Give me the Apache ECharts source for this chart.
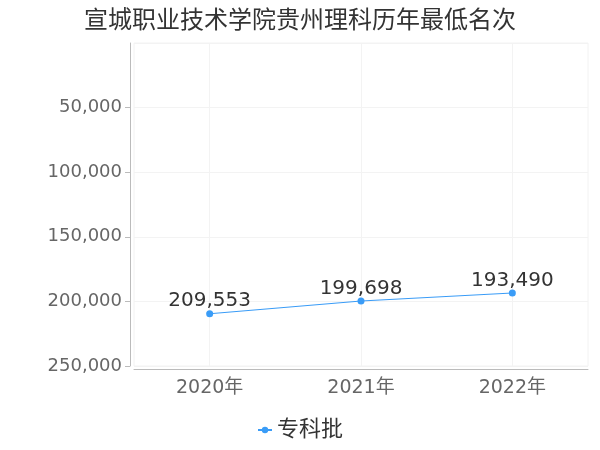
<!DOCTYPE html>
<html><head><meta charset="utf-8">
<script src="https://cdn.jsdelivr.net/npm/echarts@6/dist/echarts.min.js"></script>
<style>html,body{margin:0;padding:0;background:#fff}#c{width:600px;height:450px}</style>
</head><body><div id="c"></div>
<script>
const titleText = '宣城职业技术学院贵州理科历年最低名次';
const categories = ['2020年', '2021年', '2022年'];
const seriesName = '专科批';
const values = [209553, 199698, 193490];
const yMin = 0, yMax = 250000, yInterval = 50000;

const FONT = '"DejaVu Sans", "Noto Sans CJK SC", sans-serif';
const fmt = v => Number(v).toLocaleString('en-US');
const chart = echarts.init(document.getElementById('c'));
chart.setOption({
  animation: false,
  textStyle: { fontFamily: FONT },
  title: { text: titleText, left: 'center', top: 5,
    textStyle: { fontSize: 24, fontWeight: 'normal', color: '#333', fontFamily: FONT } },
  legend: { bottom: 4, left: 'center', itemWidth: 14, itemHeight: 8,
    textStyle: { fontSize: 22, color: '#333', fontFamily: FONT }, data: [seriesName] },
  grid: { left: 134, right: 12, top: 43, bottom: 84, show: true, borderColor: '#f2f2f2', borderWidth: 1 },
  xAxis: { type: 'category', data: categories, offset: 3,
    axisLine: { onZero: false, lineStyle: { color: '#bbb' } },
    axisTick: { alignWithLabel: true, lineStyle: { color: '#bbb' } },
    splitLine: { show: true, alignWithLabel: true, lineStyle: { color: '#f3f3f3' } },
    axisLabel: { fontSize: 19, color: '#666', margin: 10, fontFamily: FONT } },
  yAxis: { type: 'value', inverse: true, min: yMin, max: yMax, interval: yInterval, offset: 4,
    axisLine: { show: true, onZero: false, lineStyle: { color: '#bbb' } },
    axisTick: { show: true, lineStyle: { color: '#bbb' } },
    splitLine: { show: true, lineStyle: { color: '#f3f3f3' } },
    axisLabel: { fontSize: 18, color: '#666', showMinLabel: false, formatter: fmt, fontFamily: FONT } },
  series: [{ name: seriesName, type: 'line', data: values,
    symbol: 'circle', symbolSize: 7,
    itemStyle: { color: '#3a9cf7' }, lineStyle: { width: 1.2, color: '#3a9cf7' },
    label: { show: true, position: 'top', distance: -1, fontSize: 20, color: '#333', formatter: p => fmt(p.value), fontFamily: FONT } }]
});
</script></body></html>
